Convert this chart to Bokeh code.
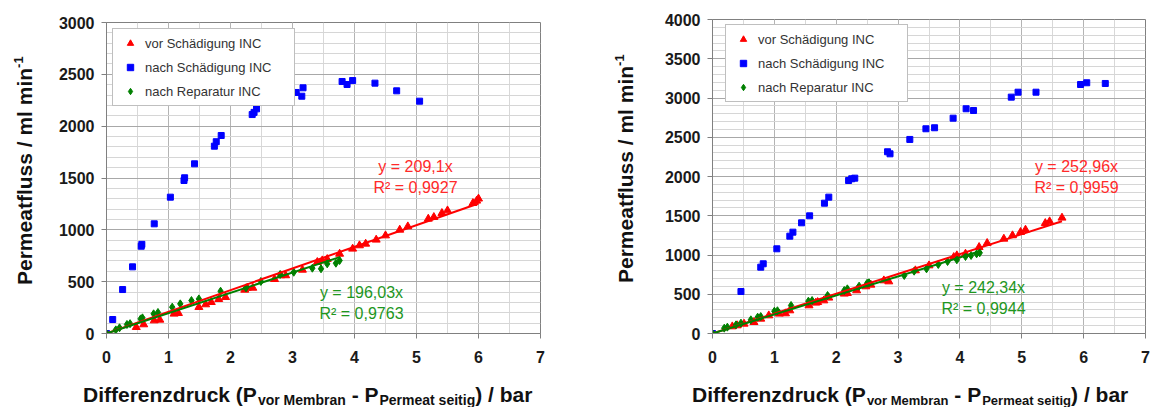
from bokeh.plotting import figure
from bokeh.models import Label, Legend, LegendItem, SingleIntervalTicker, Range1d, Div
from bokeh.layouts import row, column
from bokeh.embed import file_html
from bokeh.resources import INLINE

# ---------------- data ----------------
series_names = ["vor Schädigung INC", "nach Schädigung INC", "nach Reparatur INC"]

# left chart
red_x_L = [0.48, 0.60, 0.77, 0.86, 1.09, 1.16, 1.49, 1.60, 1.69, 1.81, 1.92, 2.23, 2.27, 2.36, 2.71, 2.81,
           2.89, 3.16, 3.40, 3.48, 3.56, 3.76, 3.97, 4.08, 4.18, 4.35, 4.50, 4.73, 4.86, 5.19, 5.28, 5.41,
           5.50, 5.91, 5.97, 6.00]
red_y_L = [61, 87, 125, 132, 190, 196, 254, 280, 302, 331, 350, 421, 440, 440, 524, 560,
           560, 614, 688, 704, 717, 768, 817, 849, 865, 904, 945, 1000, 1032, 1106, 1122, 1161,
           1186, 1257, 1280, 1300]
blue_x_L = [0, 0.10, 0.26, 0.42, 0.56, 0.57, 0.77, 1.03, 1.25, 1.26, 1.42, 1.74, 1.77, 1.85, 2.35, 2.38,
            2.42, 3.06, 3.15, 3.17, 3.80, 3.88, 3.97, 4.33, 4.68, 5.05]
blue_y_L = [0, 135, 424, 643, 842, 860, 1058, 1315, 1476, 1502, 1637, 1807, 1850, 1910, 2112, 2133,
            2167, 2325, 2289, 2370, 2431, 2402, 2440, 2415, 2341, 2241]
green_x_L = [0, 0.15, 0.21, 0.33, 0.38, 0.55, 0.58, 0.76, 0.83, 1.06, 1.19, 1.37, 1.49, 1.84, 2.25, 2.49,
             2.80, 3.02, 3.32, 3.46, 3.56, 3.70, 3.76]
green_y_L = [0, 35, 55, 87, 95, 141, 151, 190, 203, 254, 286, 318, 334, 408, 440, 502,
             569, 591, 630, 624, 672, 678, 704]

# right chart
red_x_R = [0.32, 0.40, 0.51, 0.67, 0.78, 0.91, 1.08, 1.18, 1.25, 1.56, 1.67, 1.70, 1.80, 1.88, 2.13, 2.18,
           2.33, 2.48, 2.56, 2.77, 2.85, 3.28, 3.50, 3.90, 3.95, 4.09, 4.31, 4.44, 4.71, 4.85, 4.98, 5.06,
           5.38, 5.45, 5.65]
red_y_R = [89, 102, 123, 144, 187, 229, 251, 255, 293, 357, 391, 399, 420, 455, 506, 514,
           548, 599, 620, 675, 662, 803, 866, 972, 994, 1015, 1100, 1151, 1206, 1249, 1291, 1321,
           1405, 1427, 1474]
blue_x_R = [0, 0.46, 0.78, 0.82, 1.04, 1.25, 1.30, 1.44, 1.57, 1.81, 1.88, 2.20, 2.25, 2.30, 2.83, 2.87,
            3.19, 3.45, 3.59, 3.89, 4.10, 4.22, 4.83, 4.94, 5.23, 5.95, 6.05, 6.35]
blue_y_R = [0, 535, 845, 888, 1079, 1240, 1291, 1410, 1499, 1660, 1737, 1949, 1971, 1979, 2315, 2289,
            2472, 2608, 2621, 2743, 2863, 2841, 3011, 3074, 3074, 3172, 3194, 3185]
green_x_R = [0, 0.19, 0.24, 0.38, 0.46, 0.62, 0.73, 0.78, 1.00, 1.05, 1.27, 1.55, 1.61, 1.86, 2.13, 2.18,
             2.37, 2.50, 2.53, 3.10, 3.26, 3.46, 3.65, 3.80, 3.95, 4.09, 4.18, 4.27, 4.32]
green_y_R = [0, 68, 81, 110, 132, 174, 208, 216, 284, 290, 357, 412, 420, 484, 548, 569,
             603, 641, 646, 739, 794, 824, 879, 917, 939, 981, 994, 1015, 1028]

# trend lines (through origin)
slope_red_L, r2_red_L = 209.1, "0,9927"
slope_green_L, r2_green_L = 196.03, "0,9763"
slope_red_R, r2_red_R = 252.96, "0,9959"
slope_green_R, r2_green_R = 242.34, "0,9944"
eq_red_L, eq_green_L = "y = 209,1x", "y = 196,03x"
eq_red_R, eq_green_R = "y = 252,96x", "y = 242,34x"

x_max = 7
y_max_L = 3000
y_max_R = 4000

y_title = "Permeatfluss / ml min"
y_title_sup = "-1"
x_title_parts = ["Differenzdruck (P", "vor Membran", " - P", "Permeat seitig", ") / bar"]

FONT = "Liberation Sans"
RED, BLUE, GREEN = "#ff0000", "#0000ff", "#008000"
RED_TXT, GREEN_TXT = "#ff2a2a", "#1e961e"
TXT = "#111111"
PAGE_H = 407
MAIN_H = 380


def make_chart(page_x0, ylab_w, width, L, R, T, B, ymax, rx, ry, bx, by, gx, gy,
               s_red, s_green, eq_r, r2_r, eq_g, r2_g,
               eq_r_pos, eq_g_pos, legend_pos, xlab_x0, ylab_pos, sub_size):
    main_x0 = page_x0 + ylab_w
    main_w = width - ylab_w
    p = figure(width=main_w, height=MAIN_H, x_range=Range1d(0, x_max), y_range=Range1d(0, ymax),
               output_backend="svg", toolbar_location=None,
               min_border_left=L - main_x0, min_border_right=main_x0 + main_w - R,
               min_border_top=T, min_border_bottom=MAIN_H - B)
    p.background_fill_color = "white"
    p.border_fill_color = "white"
    p.outline_line_color = "#808080"

    def to_data(px, py):
        return (px - L) / (R - L) * x_max, (B - py) / (B - T) * ymax

    # axes
    p.xaxis.ticker = SingleIntervalTicker(interval=1, num_minor_ticks=2)
    p.yaxis.ticker = SingleIntervalTicker(interval=500, num_minor_ticks=5)
    for ax in (p.xaxis, p.yaxis):
        ax.axis_line_color = "#808080"
        ax.major_tick_line_color = "#808080"
        ax.minor_tick_line_color = None
        ax.major_tick_in = 0
        ax.major_tick_out = 5
        ax.major_label_text_font = FONT
        ax.major_label_text_font_style = "bold"
        ax.major_label_text_font_size = "16px"
        ax.major_label_text_color = "#1a1a1a"
    p.xaxis.major_label_standoff = 12
    p.yaxis.major_label_standoff = 7

    p.xgrid.grid_line_color = "#b4b4b4"
    p.xgrid.minor_grid_line_color = "#d8d8d8"
    p.ygrid.grid_line_color = "#a8a8a8"
    p.ygrid.minor_grid_line_color = "#d6d6d6"

    # points
    r_blue = p.scatter(bx, by, marker="square", size=6, color=BLUE)
    r_red = p.scatter(rx, ry, marker="triangle", size=8, color=RED)
    r_green = p.scatter(gx, gy, marker="diamond", size=8, color=GREEN)

    # trend lines
    fx_r = [0, max(rx)]
    p.line(fx_r, [s_red * v for v in fx_r], line_color=RED, line_width=2)
    fx_g = [0, max(gx)]
    p.line(fx_g, [s_green * v for v in fx_g], line_color=GREEN, line_width=2)

    # equations
    for (px, py), t1, t2, col in ((eq_r_pos, eq_r, "R² = " + r2_r, RED_TXT),
                                  (eq_g_pos, eq_g, "R² = " + r2_g, GREEN_TXT)):
        x1, y1 = to_data(px, py)
        x2, y2 = to_data(px, py + 21)
        for xx, yy, tt in ((x1, y1, t1), (x2, y2, t2)):
            p.add_layout(Label(x=xx, y=yy, text=tt, text_font=FONT, text_font_size="16px",
                               text_color=col, text_align="center", text_baseline="middle"))

    # legend
    legend = Legend(items=[LegendItem(label=series_names[0], renderers=[r_red]),
                           LegendItem(label=series_names[1], renderers=[r_blue]),
                           LegendItem(label=series_names[2], renderers=[r_green])],
                    location=legend_pos, margin=0, padding=4, spacing=4,
                    label_height=20, glyph_height=16, glyph_width=26, label_standoff=2,
                    label_width=145, label_text_font=FONT, label_text_font_size="13px",
                    label_text_color="#333333",
                    border_line_color="#808080", border_line_width=1,
                    background_fill_color="white", background_fill_alpha=1.0)
    p.add_layout(legend, "center")

    font_css = f"font-family:'{FONT}';font-weight:bold;color:{TXT};white-space:nowrap;"

    # y axis title (rotated, bottom-to-top); baseline at x = ylab_pos[0], start at y = ylab_pos[1]
    yx, yy0 = ylab_pos
    y_html = (f"<div style='position:relative;width:{ylab_w}px;height:{PAGE_H}px;'>"
              f"<span style=\"position:absolute;left:{yx - page_x0 - 19}px;top:{yy0}px;"
              f"font-size:21px;line-height:24px;{font_css}"
              f"transform:rotate(-90deg);transform-origin:0 0;\">{y_title}"
              f"<span style='font-size:13px;vertical-align:9px;line-height:0;'>{y_title_sup}</span>"
              f"</span></div>")
    ydiv = Div(text=y_html, width=ylab_w, height=PAGE_H, margin=(0, 0, 0, 0),
               styles={"overflow": "visible"})

    # x axis title with subscripts; baseline at page y = 402
    t0, s1, t2, s3, t4 = x_title_parts
    sub_css = f"font-size:{sub_size}px;vertical-align:-3px;line-height:0;"
    x_html = (f"<div style='position:relative;width:{main_w}px;height:{PAGE_H - MAIN_H}px;'>"
              f"<span style=\"position:absolute;left:{xlab_x0 - main_x0}px;top:{402 - MAIN_H - 19}px;"
              f"font-size:21px;line-height:24px;{font_css}\">"
              f"{t0}<span style='{sub_css}padding-left:1px;'>{s1}</span>{t2}"
              f"<span style='{sub_css}padding-left:1px;'>{s3}</span>{t4}</span></div>")
    xdiv = Div(text=x_html, width=main_w, height=PAGE_H - MAIN_H, margin=(0, 0, 0, 0),
               styles={"overflow": "visible"})

    return row(ydiv, column(p, xdiv, spacing=0), spacing=0)


c1 = make_chart(0, 40, 575, 106, 540, 22, 333, y_max_L,
                red_x_L, red_y_L, blue_x_L, blue_y_L, green_x_L, green_y_L,
                slope_red_L, slope_green_L, eq_red_L, r2_red_L, eq_green_L, r2_green_L,
                eq_r_pos=(415, 166), eq_g_pos=(361, 292), legend_pos=(6, 227),
                xlab_x0=83, ylab_pos=(32, 285), sub_size=14)
c2 = make_chart(575, 60, 577, 712, 1145, 19, 333, y_max_R,
                red_x_R, red_y_R, blue_x_R, blue_y_R, green_x_R, green_y_R,
                slope_red_R, slope_green_R, eq_red_R, r2_red_R, eq_green_R, r2_green_R,
                eq_r_pos=(1076, 166), eq_g_pos=(983, 287), legend_pos=(13, 231),
                xlab_x0=692, ylab_pos=(633, 283), sub_size=13)

layout = row(c1, c2, spacing=0)
open("out.html", "w").write(file_html(layout, INLINE))
